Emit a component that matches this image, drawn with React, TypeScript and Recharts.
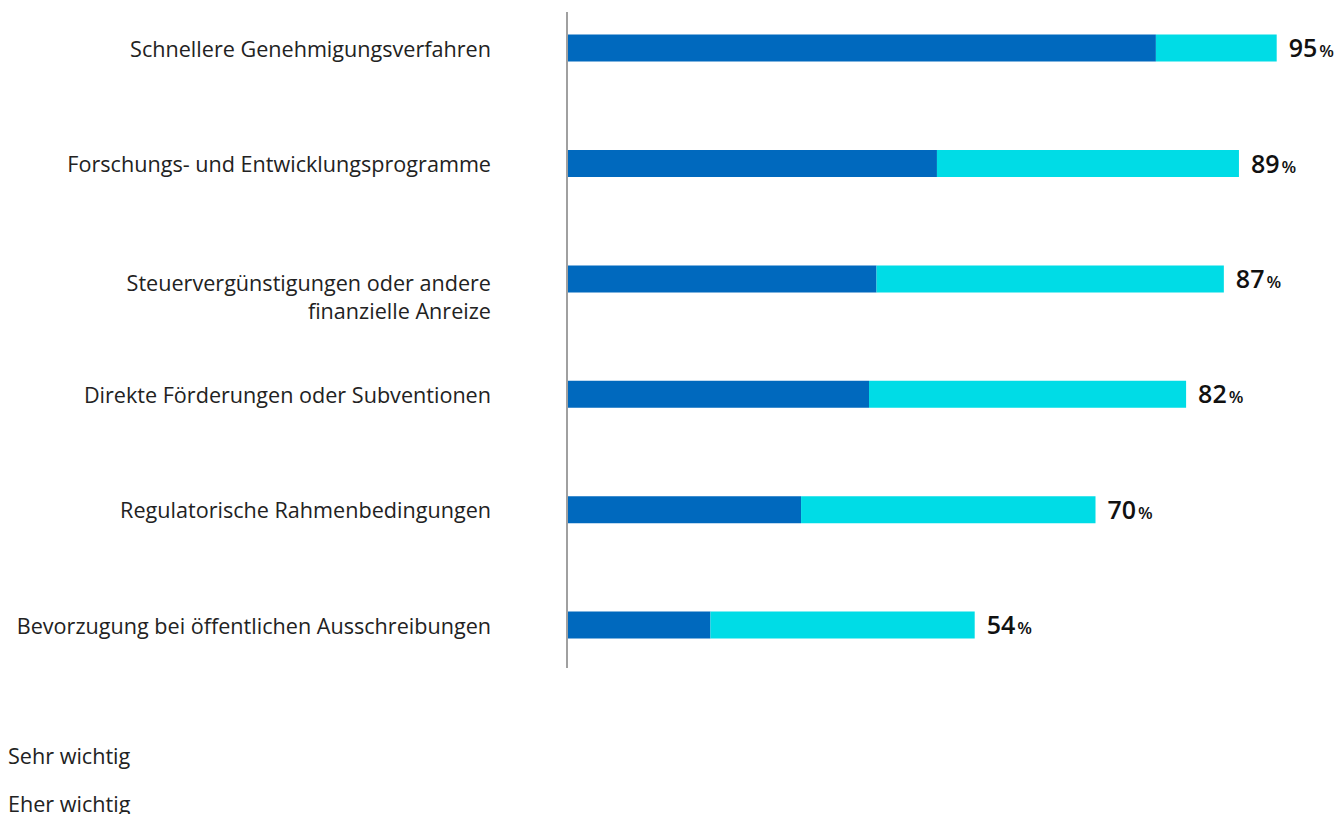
import React from "react";
import { BarChart, Bar, XAxis, YAxis, LabelList, Legend } from "recharts";

const categories = [
  "Schnellere Genehmigungsverfahren",
  "Forschungs- und Entwicklungsprogramme",
  "Steuervergünstigungen oder andere\nfinanzielle Anreize",
  "Direkte Förderungen oder Subventionen",
  "Regulatorische Rahmenbedingungen",
  "Bevorzugung bei öffentlichen Ausschreibungen",
];
const sehrWichtig = [78, 49, 41, 40, 31, 19];
const eherWichtig = [16, 40, 46, 42, 39, 35];
const totals = [95, 89, 87, 82, 70, 54];
const seriesNames = ["Sehr wichtig", "Eher wichtig"];

const DARK = "#0069BE";
const CYAN = "#00DCE6";
const FONT = '"Open Sans", sans-serif';

const data = categories.map((name, i) => ({
  name,
  sehr: sehrWichtig[i],
  eher: eherWichtig[i],
  total: totals[i],
}));

const CategoryTick = (props: any) => {
  const { x, y, payload } = props;
  const lines = String(payload.value).split("\n");
  return (
    <g>
      {lines.map((line, i) => (
        <text
          key={i}
          x={x}
          y={y + (lines.length > 1 ? 3 + i * 28 : 0)}
          textAnchor="end"
          dominantBaseline="central"
          fontFamily={FONT}
          fontSize={21.6}
          fill="#222"
        >
          {line}
        </text>
      ))}
    </g>
  );
};

const TotalLabel = (props: any) => {
  const { x, y, width, height, value } = props;
  return (
    <text
      x={x + width + 12}
      y={y + height / 2 + 9}
      fontFamily={FONT}
      fill="#111"
    >
      <tspan fontSize={25} fontWeight={600}>{value}</tspan>
      <tspan fontSize={17} fontWeight={600} dx={2}>%</tspan>
    </text>
  );
};

const LegendContent = () => (
  <div style={{ height: 68, fontFamily: FONT, fontSize: 21.6, color: "#222" }}>
    <div style={{ height: 20, lineHeight: "20px", whiteSpace: "nowrap" }}>{seriesNames[0]}</div>
    <div style={{ height: 20, lineHeight: "20px", marginTop: 28, whiteSpace: "nowrap" }}>{seriesNames[1]}</div>
  </div>
);

export default function App() {
  return (
    <div style={{ height: 806 }}>
      <BarChart
        width={1330}
        height={806}
        data={data}
        layout="vertical"
        margin={{ top: 4, right: 16, bottom: 78, left: 0 }}
        barSize={27}
      >
        <XAxis type="number" domain={[0, 100]} hide />
        <YAxis
          type="category"
          dataKey="name"
          width={559}
          axisLine={{ stroke: "#A0A0A0", strokeWidth: 2 }}
          tickLine={false}
          tickMargin={70}
          tick={<CategoryTick />}
          padding={{ top: -21.4, bottom: -15 }}
          interval={0}
        />
        <Legend
          layout="horizontal"
          verticalAlign="bottom"
          align="left"
          content={<LegendContent />}
          wrapperStyle={{ top: 738, bottom: "auto", left: 0 }}
        />
        <Bar dataKey="sehr" name={seriesNames[0]} stackId="a" fill={DARK} isAnimationActive={false} />
        <Bar dataKey="eher" name={seriesNames[1]} stackId="a" fill={CYAN} isAnimationActive={false}>
          <LabelList dataKey="total" content={<TotalLabel />} />
        </Bar>
      </BarChart>
    </div>
  );
}
